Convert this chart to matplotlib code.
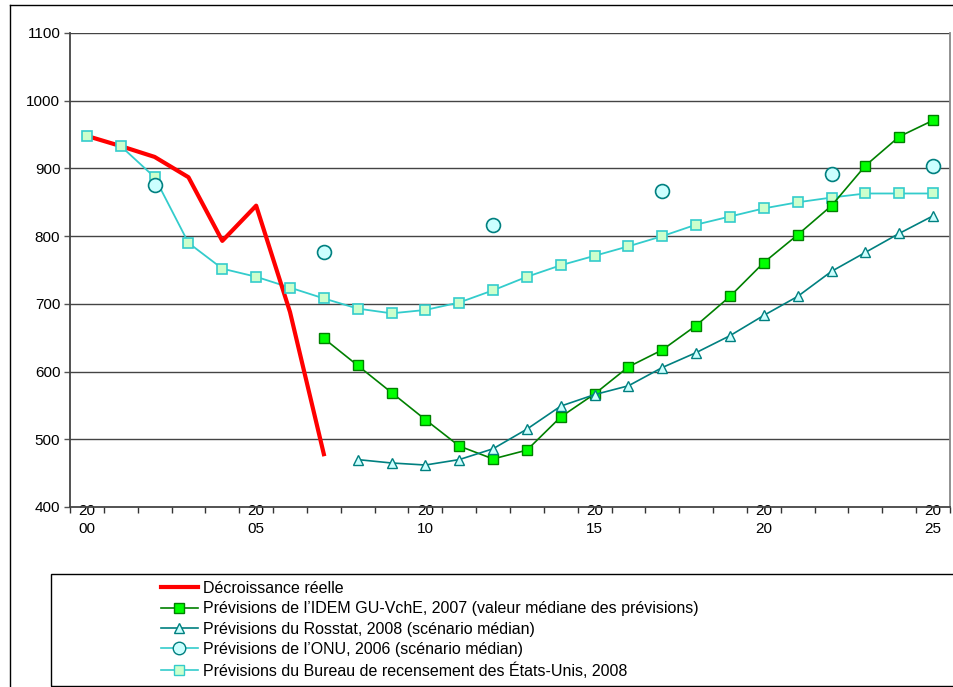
import matplotlib
matplotlib.use("Agg")
import matplotlib.pyplot as plt
from matplotlib.lines import Line2D
from matplotlib.patches import Rectangle

plt.rcParams['font.family'] = ['Liberation Sans', 'DejaVu Sans']
plt.rcParams['font.size'] = 11

# données
annees = list(range(2000, 2026))
reel_annees = list(range(2000, 2008))
reel = [948, 933, 917, 887, 793, 845, 688, 478]

idem_annees = list(range(2007, 2026))
idem = [649, 609, 569, 529, 490, 471, 484, 533, 567, 607, 632,
        668, 711, 761, 802, 845, 904, 947, 971]

rosstat_annees = list(range(2008, 2026))
rosstat = [470, 465, 462, 470, 486, 515, 549, 566, 579, 606,
           628, 653, 683, 711, 748, 776, 804, 830]

onu_annees = [2002, 2007, 2012, 2017, 2022, 2025]
onu = [876, 777, 817, 866, 892, 903]

census = [948, 933, 887, 790, 752, 740, 724, 708, 693, 686, 691, 702, 720,
          740, 757, 771, 785, 800, 817, 829, 841, 850, 857, 863, 863, 863]

noms = ["Décroissance réelle",
        "Prévisions de l’IDEM GU-VchE, 2007 (valeur médiane des prévisions)",
        "Prévisions du Rosstat, 2008 (scénario médian)",
        "Prévisions de l’ONU, 2006 (scénario médian)",
        "Prévisions du Bureau de recensement des États-Unis, 2008"]

fig = plt.figure(figsize=(9.54, 6.87), dpi=100)
W, H = 954, 687
ax = fig.add_axes([70 / W, 1 - 507 / H, 880 / W, 474 / H])

# cadre extérieur
fig.add_artist(Line2D([10 / W, 10 / W], [0, 1 - 5 / H], color='black', lw=1))
fig.add_artist(Line2D([10 / W, 1], [1 - 5 / H, 1 - 5 / H], color='black', lw=1))

ax.plot(annees, census, color='#33CCCC', lw=1.3, zorder=2)
ax.plot(reel_annees, reel, color='#FF0000', lw=3, zorder=3)
ax.plot(annees, census, 's', ms=6.5, mfc='#CCFFCC', mec='#33CCCC', mew=1.2, zorder=4)
ax.plot(idem_annees, idem, color='#008000', lw=1.2, marker='s', ms=6.5,
        mfc='#00FF00', mec='#008000', mew=1, zorder=5)
ax.plot(rosstat_annees, rosstat, color='#008080', lw=1.2, marker='^', ms=6.5,
        mfc='#CCFFFF', mec='#008080', mew=1, zorder=5)
ax.plot(onu_annees, onu, linestyle='none', marker='o', ms=10,
        mfc='#CCFFFF', mec='#008080', mew=1.2, zorder=6)

ax.set_xlim(1999.5, 2025.5)
ax.set_ylim(400, 1100)
ax.set_yticks(range(400, 1101, 100))
for y in range(500, 1101, 100):
    ax.axhline(y, color='#444444', lw=1, zorder=1)

ax.set_xticks(range(2000, 2026, 5))
ax.set_xticklabels(["20\n" + str(a)[2:] for a in range(2000, 2026, 5)],
                   linespacing=1.35)
ax.set_xticks([1999.5 + k for k in range(27)], minor=True)
ax.tick_params(axis='x', which='major', length=0, pad=-2, labelsize=11)
ax.tick_params(axis='x', which='minor', length=4, width=1, color='#333333', direction='out')
ax.tick_params(axis='y', length=4, width=1, color='#555555', pad=3, labelsize=11)

for s in ['left', 'bottom']:
    ax.spines[s].set_color('#444444')
    ax.spines[s].set_linewidth(1.3)
ax.spines['top'].set_visible(False)
ax.spines['right'].set_color('#888888')
ax.spines['right'].set_linewidth(1.3)

# légende
fig.add_artist(Rectangle((51 / W, 1 - 686 / H), 1.0, 112 / H, transform=fig.transFigure,
                         fill=False, edgecolor='black', lw=1))
poignees = [
    Line2D([], [], color='#FF0000', lw=3),
    Line2D([], [], color='#008000', lw=1.2, marker='s', ms=6.5, mfc='#00FF00', mec='#008000'),
    Line2D([], [], color='#008080', lw=1.2, marker='^', ms=6.5, mfc='#CCFFFF', mec='#008080'),
    Line2D([], [], color='#33CCCC', lw=1.2, marker='o', ms=9, mfc='#CCFFFF', mec='#008080'),
    Line2D([], [], color='#33CCCC', lw=1.2, marker='s', ms=6.5, mfc='#CCFFCC', mec='#33CCCC'),
]
fig.legend(poignees, noms, loc='upper left', bbox_to_anchor=(153 / W, 1 - 573 / H),
           frameon=False, borderpad=0, handlelength=2.3, handletextpad=0.35,
           labelspacing=0.33, fontsize=11.5)

fig.savefig("out.png", dpi=100)
